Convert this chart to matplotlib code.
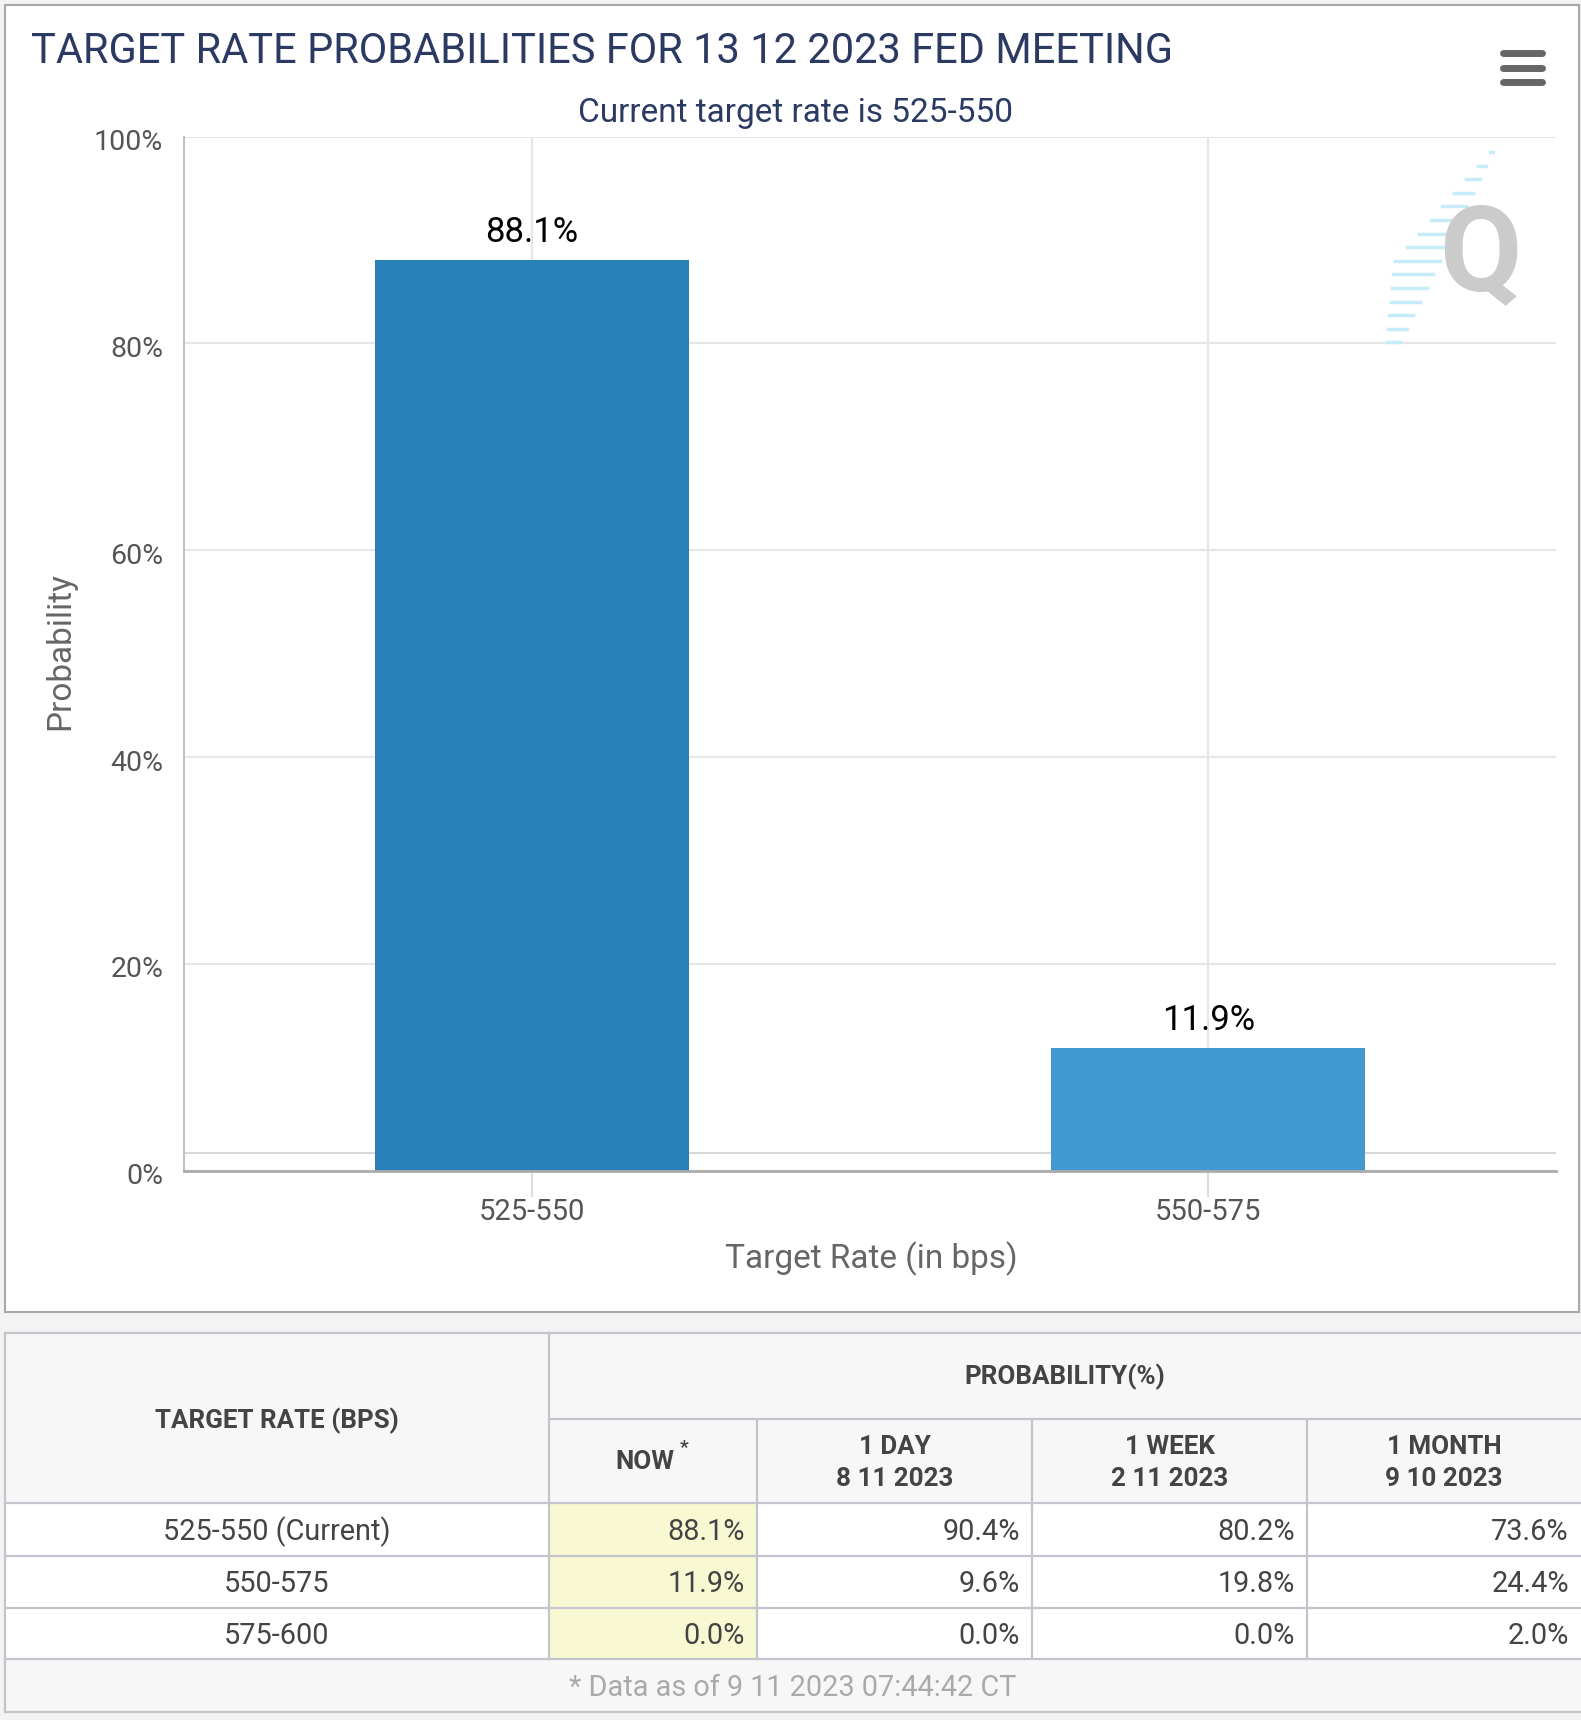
import matplotlib
matplotlib.use("Agg")
import matplotlib.pyplot as plt
from matplotlib.patches import Rectangle
from matplotlib.lines import Line2D
import matplotlib.transforms as mtransforms

plt.rcParams['font.family'] = ['Roboto', 'DejaVu Sans']

# chart data
categories = ["525-550", "550-575"]
probs = [88.1, 11.9]
bar_colors = ["#2980b9", "#4399d2"]
y_ticks = [0, 20, 40, 60, 80, 100]
plot_line_level = 1.7  # faint reference line just above the axis

title = "TARGET RATE PROBABILITIES FOR 13 12 2023 FED MEETING"
subtitle = "Current target rate is 525-550"

# table data
row_labels = ["525-550 (Current)", "550-575", "575-600"]
now_vals = [88.1, 11.9, 0.0]
day_vals = [90.4, 9.6, 0.0]
week_vals = [80.2, 19.8, 0.0]
month_vals = [73.6, 24.4, 2.0]
col_heads = [("1 DAY", "8 11 2023"), ("1 WEEK", "2 11 2023"), ("1 MONTH", "9 10 2023")]
footer = "* Data as of 9 11 2023 07:44:42 CT"

W, H = 1581, 1720
fig = plt.figure(figsize=(W / 100, H / 100), dpi=100, facecolor="#f3f3f3")


def fx(x):
    return x / W


def fy(y):
    return 1 - y / H


def base(yc, pt):
    # baseline pixel for a visual (cap) centre
    return yc + 0.355 * pt * 100 / 72


navy = "#2b3a62"
grid_c = "#e6e6e6"
lab_c = "#555555"

# chart container
fig.add_artist(Rectangle((fx(5), fy(1312)), fx(1579) - fx(5), fy(5) - fy(1312),
                         transform=fig.transFigure, facecolor="white",
                         edgecolor="#a8a8a8", lw=1.5, zorder=-5))

fig.text(fx(31), fy(63), title, fontsize=30, color=navy, ha="left", va="baseline")
fig.text(fx(795), fy(122), subtitle, fontsize=24, color=navy, ha="center", va="baseline")

# hamburger menu
for yy in (53, 68, 82):
    fig.add_artist(Line2D([fx(1503), fx(1542)], [fy(yy), fy(yy)], transform=fig.transFigure,
                          color="#666666", lw=5, solid_capstyle="round"))

# watermark
n = 15
for i in range(n):
    yy = 152 + i * 13.6
    xr = 1493 - 93 * i / (n - 1)
    ln = 3 + 42 * (1 - abs(i - 8) / 8)
    fig.add_artist(Line2D([fx(xr - ln), fx(xr)], [fy(yy), fy(yy)], transform=fig.transFigure,
                          color="#c6ecfa", lw=2.5, zorder=1))
fig.text(fx(1480), fy(258), "Q", fontsize=86, fontweight="bold", color="#cbcbcb",
         ha="center", va="center", zorder=2)

# main axes
left, right, top, bottom = 184, 1556, 136.5, 1170.7
ax = fig.add_axes([fx(left), fy(bottom), fx(right) - fx(left), fy(top) - fy(bottom)])
ax.set_facecolor("none")
x = list(range(len(categories)))
ax.bar(x, probs, width=0.464, color=bar_colors, zorder=3)
ax.set_xlim(-0.514, 1.514)
ax.set_ylim(0, 100)
ax.set_yticks(y_ticks)
ax.set_yticklabels([f"{t}%" for t in y_ticks])
ax.set_xticks(x)
ax.set_xticklabels(categories)
ax.grid(True, color=grid_c, lw=1.5, zorder=0)
ax.axhline(plot_line_level, color="#d8d8d8", lw=1.5, zorder=1)
for s in ("top", "right"):
    ax.spines[s].set_visible(False)
ax.spines["left"].set_color("#c0c0c0")
ax.spines["left"].set_linewidth(1.5)
ax.spines["bottom"].set_color("#ababab")
ax.spines["bottom"].set_linewidth(2)
ax.spines["bottom"].set_zorder(4)
ax.tick_params(axis="y", length=0, pad=15, labelsize=20.5, labelcolor=lab_c)
ax.tick_params(axis="x", length=18.5, width=1.5, color="#dddddd", pad=1,
               labelsize=21, labelcolor=lab_c)
off = mtransforms.ScaledTranslation(0, -0.03, fig.dpi_scale_trans)
for t in ax.get_yticklabels():
    t.set_transform(t.get_transform() + off)

for xi, v in zip(x, probs):
    ax.annotate(f"{v}%", (xi, v), xytext=(0, 13), textcoords="offset points",
                ha="center", va="baseline", fontsize=25, color="black")

fig.text(fx(871), fy(1268), "Target Rate (in bps)", fontsize=24, color="#666666",
         ha="center", va="baseline")
fig.text(fx(60), fy(651), "Probability", fontsize=24, color="#666666", rotation=90,
         ha="center", va="center")

# table
tl, tr = 5, 1581
c1, c2, c3, c4 = 549, 757, 1032, 1307
t_top, t_split, t_head, t_r1, t_r2, t_r3, t_foot = 1333, 1419, 1503, 1556, 1608, 1659, 1712
line_c = "#c4c4cc"


def rect(x0, y0, x1, y1, fc):
    fig.add_artist(Rectangle((fx(x0), fy(y1)), fx(x1) - fx(x0), fy(y0) - fy(y1),
                             transform=fig.transFigure, facecolor=fc, edgecolor="none", zorder=1))


def hline(y, x0, x1):
    fig.add_artist(Line2D([fx(x0), fx(x1)], [fy(y), fy(y)], transform=fig.transFigure,
                          color=line_c, lw=1.6, zorder=2))


def vline(x0, y0, y1):
    fig.add_artist(Line2D([fx(x0), fx(x0)], [fy(y0), fy(y1)], transform=fig.transFigure,
                          color=line_c, lw=1.6, zorder=2))


rect(tl, t_top, tr, t_head, "#f7f7f7")
rect(tl, t_head, tr, t_r3, "white")
rect(c1, t_head, c2, t_r3, "#f8f8d3")
rect(tl, t_r3, tr, t_foot, "#f7f7f7")
for yy in (t_top, t_head, t_r1, t_r2, t_r3):
    hline(yy, tl, tr)
hline(t_split, c1, tr)
hline(t_foot, tl, tr)
vline(tl, t_top, t_foot)
vline(c1, t_top, t_r3)
for cx in (c2, c3, c4):
    vline(cx, t_split, t_r3)

hc = "#444444"
hs = 18.7
fig.text(fx((tl + c1) / 2), fy(base(1419, hs)), "TARGET RATE (BPS)", fontsize=hs,
         fontweight="bold", color=hc, ha="center", va="baseline")
fig.text(fx((c1 + tr) / 2), fy(base(1375, hs)), "PROBABILITY(%)", fontsize=hs,
         fontweight="bold", color=hc, ha="center", va="baseline")
fig.text(fx(674), fy(base(1460, hs)), "NOW", fontsize=hs, fontweight="bold",
         color=hc, ha="right", va="baseline")
fig.text(fx(684), fy(base(1446, 14)), "*", fontsize=14, fontweight="bold",
         color=hc, ha="center", va="baseline")
for (a, b), x0, x1 in zip(col_heads, (c2, c3, c4), (c3, c4, tr)):
    fig.text(fx((x0 + x1) / 2), fy(base(1445, hs)), a, fontsize=hs, fontweight="bold",
             color=hc, ha="center", va="baseline")
    fig.text(fx((x0 + x1) / 2), fy(base(1477, hs)), b, fontsize=hs, fontweight="bold",
             color=hc, ha="center", va="baseline")

row_centers = [(t_head + t_r1) / 2, (t_r1 + t_r2) / 2, (t_r2 + t_r3) / 2]
tc = "#444444"
ts = 20.8
for i, yc in enumerate(row_centers):
    yb = fy(base(yc, ts))
    fig.text(fx((tl + c1) / 2), yb, row_labels[i], fontsize=ts, color=tc, ha="center", va="baseline")
    for vals, xr in zip((now_vals, day_vals, week_vals, month_vals), (c2, c3, c4, tr)):
        fig.text(fx(xr - 12), yb, f"{vals[i]:.1f}%", fontsize=ts, color=tc,
                 ha="right", va="baseline")

fig.text(fx((tl + tr) / 2), fy(base((t_r3 + t_foot) / 2, ts)), footer, fontsize=ts,
         color="#aaaaaa", ha="center", va="baseline")

fig.savefig("out.png", dpi=100, facecolor=fig.get_facecolor())
